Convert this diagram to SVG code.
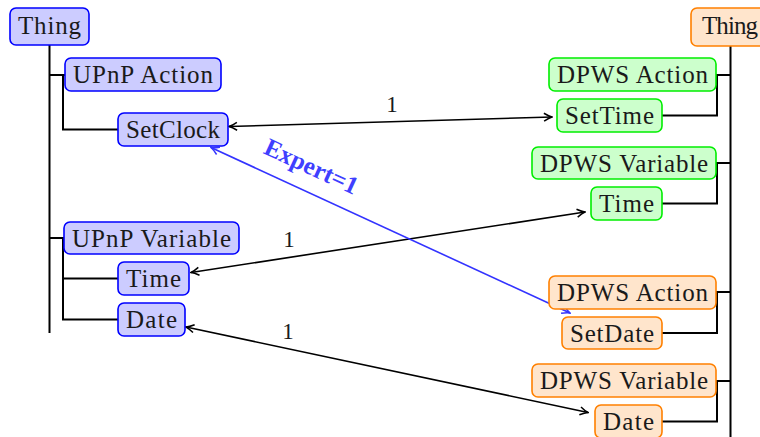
<svg xmlns="http://www.w3.org/2000/svg" width="760" height="437" viewBox="0 0 760 437">
<style>
text{font-family:"Liberation Serif","DejaVu Serif",serif;font-size:25px;fill:#1a1a1a;text-anchor:middle}
.b rect{fill:#ccccff;stroke:#0000ff;stroke-width:1.6}
.g rect{fill:#ccffcc;stroke:#00ee00;stroke-width:1.6}
.o rect{fill:#ffe5cc;stroke:#ff8000;stroke-width:1.6}
.tree{fill:none;stroke:#000;stroke-width:2}
.arr{fill:none;stroke:#000;stroke-width:1.6}
.blue{fill:none;stroke:#3333ff;stroke-width:1.6}
.lbl{font-size:23px}
.exp{font-size:25px;font-weight:bold;fill:#3f3fff}
</style>
<defs>
<marker id="ah" viewBox="0 0 10 10" refX="9" refY="5" markerWidth="10" markerHeight="10" markerUnits="userSpaceOnUse" orient="auto-start-reverse">
<path d="M1,1 Q6,4.2 9,5 Q6,5.8 1,9" fill="none" stroke="#000" stroke-width="1.5"/>
</marker>
<marker id="ahb" viewBox="0 0 10 10" refX="9" refY="5" markerWidth="10" markerHeight="10" markerUnits="userSpaceOnUse" orient="auto-start-reverse">
<path d="M1,1 Q6,4.2 9,5 Q6,5.8 1,9" fill="none" stroke="#3333ff" stroke-width="1.5"/>
</marker>
</defs>

<g id="tree-lines">
<path class="tree" d="M49.5,45 V333 M49.5,75 H65 M63,75 V129.5 H118 M49.5,238 H64 M63,238 V319.5 H118 M63,278.5 H118"/>
<path class="tree" d="M730.5,46 V437 M716,75 H730.5 M717,75 V115.5 H662 M716,163 H730.5 M717,163 V203.5 H662 M716,292 H730.5 M717,292 V333 H662 M716,381 H730.5 M717,381 V421.5 H662"/>
</g>

<g id="connectors">
<line class="arr" x1="229" y1="126.5" x2="552" y2="117" marker-start="url(#ah)" marker-end="url(#ah)"/>
<line class="arr" x1="191" y1="272.5" x2="585" y2="212" marker-start="url(#ah)" marker-end="url(#ah)"/>
<line class="arr" x1="186" y1="327" x2="588" y2="412.5" marker-start="url(#ah)" marker-end="url(#ah)"/>
<line class="blue" x1="211" y1="147.5" x2="570" y2="313" marker-start="url(#ahb)" marker-end="url(#ahb)"/>
<text class="lbl" x="392" y="112">1</text>
<text class="lbl" x="289" y="247">1</text>
<text class="lbl" x="288" y="339">1</text>
<text class="exp" x="0" y="0" transform="translate(308,174) rotate(24.7)">Expert=1</text>
</g>

<g id="left-thing" class="b"><rect x="10" y="8" width="79" height="37" rx="6"/><text x="49.5" y="34" textLength="63" lengthAdjust="spacing">Thing</text></g>
<g id="upnp-action" class="b"><rect x="65" y="58" width="156" height="33" rx="6"/><text x="143" y="82.5" textLength="140" lengthAdjust="spacing">UPnP Action</text></g>
<g id="setclock" class="b"><rect x="118" y="113" width="110" height="33" rx="6"/><text x="173" y="137.5" textLength="94" lengthAdjust="spacing">SetClock</text></g>
<g id="upnp-variable" class="b"><rect x="64" y="222" width="175" height="32" rx="6"/><text x="151.5" y="246.5" textLength="159" lengthAdjust="spacing">UPnP Variable</text></g>
<g id="upnp-time" class="b"><rect x="118" y="262" width="71" height="33" rx="6"/><text x="153.5" y="286.5" textLength="55" lengthAdjust="spacing">Time</text></g>
<g id="upnp-date" class="b"><rect x="118" y="303" width="67" height="33" rx="6"/><text x="151.5" y="327.5" textLength="51" lengthAdjust="spacing">Date</text></g>

<g id="right-thing" class="o"><rect x="691" y="8" width="79" height="38" rx="6"/><text x="730" y="34" textLength="56" lengthAdjust="spacing">Thing</text></g>
<g id="dpws-action-g" class="g"><rect x="549" y="58" width="167" height="33" rx="6"/><text x="632.5" y="82.5" textLength="151" lengthAdjust="spacing">DPWS Action</text></g>
<g id="settime" class="g"><rect x="557" y="99" width="105" height="33" rx="6"/><text x="609.5" y="123.5" textLength="89" lengthAdjust="spacing">SetTime</text></g>
<g id="dpws-variable-g" class="g"><rect x="532" y="147" width="184" height="32" rx="6"/><text x="624" y="171.5" textLength="168" lengthAdjust="spacing">DPWS Variable</text></g>
<g id="dpws-time" class="g"><rect x="591" y="187" width="71" height="33" rx="6"/><text x="626.5" y="211.5" textLength="55" lengthAdjust="spacing">Time</text></g>
<g id="dpws-action-o" class="o"><rect x="549" y="276" width="167" height="33" rx="6"/><text x="632.5" y="300.5" textLength="151" lengthAdjust="spacing">DPWS Action</text></g>
<g id="setdate" class="o"><rect x="562" y="317" width="100" height="32" rx="6"/><text x="612" y="341.5" textLength="84" lengthAdjust="spacing">SetDate</text></g>
<g id="dpws-variable-o" class="o"><rect x="532" y="364" width="184" height="33" rx="6"/><text x="624" y="388.5" textLength="168" lengthAdjust="spacing">DPWS Variable</text></g>
<g id="dpws-date" class="o"><rect x="595" y="405" width="67" height="33" rx="6"/><text x="628.5" y="429.5" textLength="51" lengthAdjust="spacing">Date</text></g>
</svg>
